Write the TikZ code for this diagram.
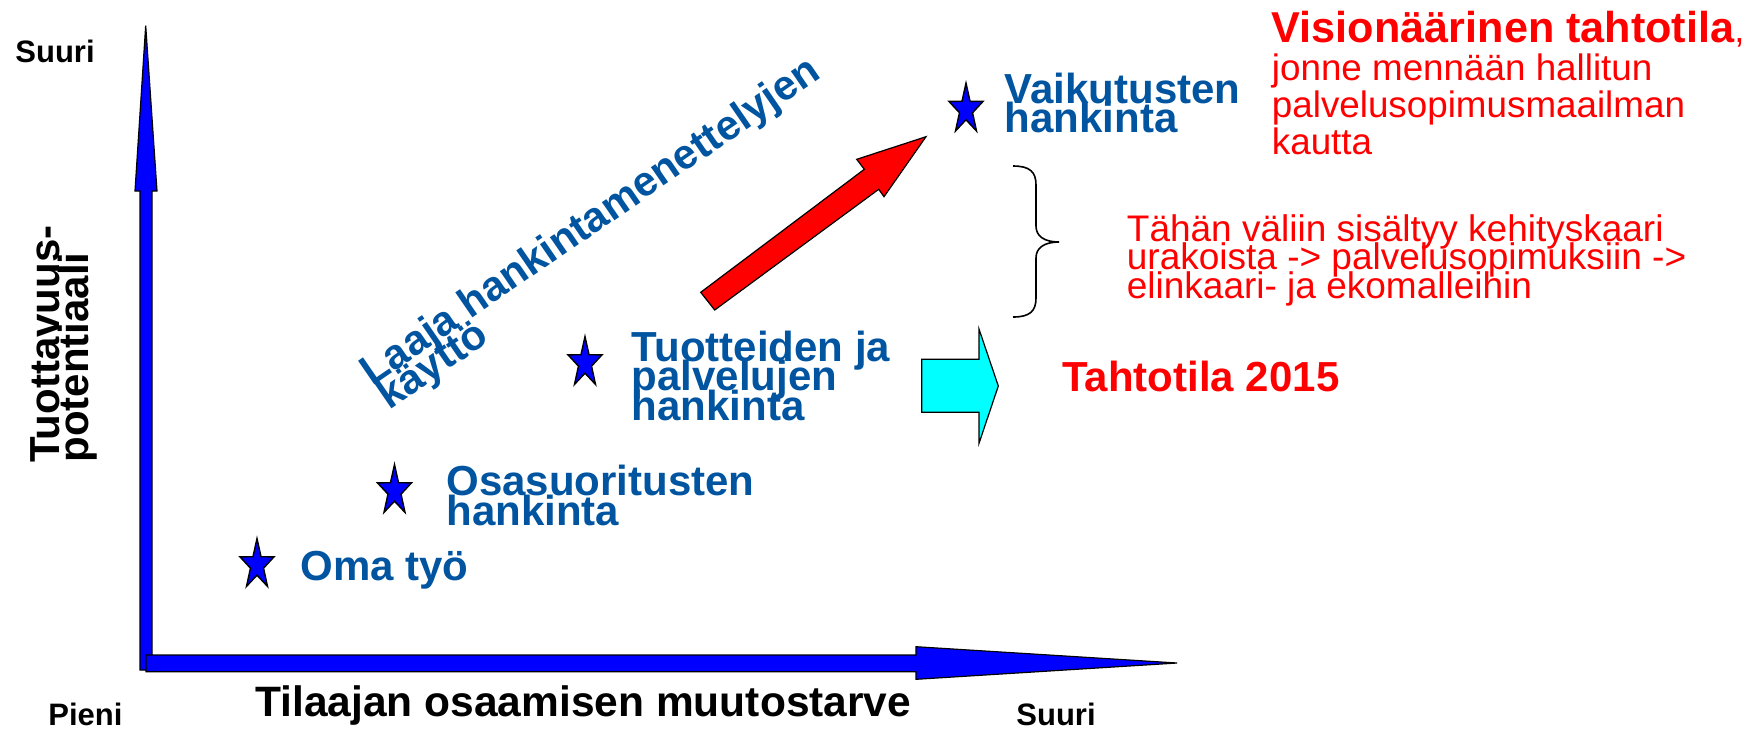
\documentclass[tikz,border=0pt]{standalone}
\usepackage{fontspec}
\setmainfont{Liberation Sans}
\usetikzlibrary{shapes.geometric}
\definecolor{lblue}{RGB}{0,84,160}
\definecolor{axblue}{RGB}{0,0,255}
\definecolor{cyanf}{RGB}{0,255,255}
\definecolor{redf}{RGB}{255,0,0}
\newcommand\stacklines[2]{\vtop{\baselineskip=#1\lineskiplimit=-100pt\lineskip=0pt\relax #2}}
\tikzset{
  lbl/.style={text=lblue, font=\fontsize{21pt}{21pt}\bfseries\selectfont, inner sep=0pt, anchor=base west},
  redbold/.style={text=redf, font=\fontsize{21pt}{21pt}\bfseries\selectfont, inner sep=0pt, anchor=base west},
  redreg/.style={text=redf, font=\fontsize{18.4pt}{18.4pt}\selectfont, inner sep=0pt, anchor=base west},
  axlbl/.style={text=black, font=\fontsize{15.5pt}{15.5pt}\bfseries\selectfont, inner sep=0pt, anchor=base west},
  starsty/.style={star, star points=5, star point ratio=2.6, draw=black, fill=axblue, line width=0.7pt, inner sep=0pt, minimum size=17.9pt},
  blockarrow/.style={draw=black, line width=0.6pt, line join=miter}
}
\begin{document}
\begin{tikzpicture}[x=0.5pt, y=-0.5pt]
\useasboundingbox (0,0) rectangle (1751,730);

% axes
\draw[blockarrow, fill=axblue] (140,670) -- (140,191) -- (135,191) -- (145.7,25.6) -- (157,191) -- (152,191) -- (152,670) -- cycle;
\draw[blockarrow, fill=axblue] (146,655) -- (916,655) -- (916,646.7) -- (1177,663) -- (916,679.3) -- (916,671.7) -- (146,671.7) -- cycle;

% axis labels
\node[axlbl] (suuriy) at (15,62.8) {Suuri};
\node[axlbl] (pieni) at (48,725) {Pieni};
\node[axlbl] (suurix) at (1016,725) {Suuri};
\node[axlbl, font=\fontsize{21.25pt}{21.25pt}\bfseries\selectfont] (xlab) at (255,716.7) {Tilaajan osaamisen muutostarve};
\node[axlbl, font=\fontsize{21pt}{21pt}\bfseries\selectfont, rotate=90] (ylab) at (59.3,463)
  {\stacklines{14.5pt}{\hbox{Tuottavuus-}\hbox{potentiaali}}};

% stars
\begin{scope}[shift={(257,565)}, yscale=1.48]
  \node[starsty, transform shape] (s1) at (0,0) {};
\end{scope}
\begin{scope}[shift={(394.5,491)}, yscale=1.48]
  \node[starsty, transform shape] (s2) at (0,0) {};
\end{scope}
\begin{scope}[shift={(585,363)}, yscale=1.48]
  \node[starsty, transform shape] (s3) at (0,0) {};
\end{scope}
\begin{scope}[shift={(966,109.6)}, yscale=1.48]
  \node[starsty, transform shape] (s4) at (0,0) {};
\end{scope}

% star labels
\node[lbl] (oma) at (300,580.7) {Oma työ};
\node[lbl] (osa) at (446,495.7) {\stacklines{15pt}{\hbox{Osasuoritusten}\hbox{hankinta}}};
\node[lbl] (tuo) at (631.5,361.7) {\stacklines{14.6pt}{\hbox{Tuotteiden ja}\hbox{palvelujen}\hbox{hankinta}}};
\node[lbl] (vai) at (1004.5,103.3) {\stacklines{14.5pt}{\hbox{Vaikutusten}\hbox{hankinta}}};
\node[lbl, rotate=34.5, font=\fontsize{20.9pt}{20.9pt}\bfseries\selectfont] (laaja) at (372.5,386.7)
  {\stacklines{14.5pt}{\hbox{Laaja hankintamenettelyjen}\hbox{käyttö}}};

% red arrow
\draw[blockarrow, fill=redf] (700.7,292.3) -- (864.3,169.3) -- (856.7,159.3) -- (926,136.7) -- (884,196.7) -- (878.7,189.3) -- (714.7,310) -- cycle;

% cyan arrow
\draw[blockarrow, fill=cyanf] (921.7,359.3) -- (979,359.3) -- (979,329) -- (998.3,386) -- (979,443.3) -- (979,412.3) -- (921.7,412.3) -- cycle;

% brace
\draw[line width=0.8pt] (1013,166) .. controls (1030,166) and (1036,172) .. (1036,185) -- (1036,226)
  .. controls (1036,236) and (1044,242) .. (1059,242)
  .. controls (1044,242) and (1036,248) .. (1036,258) -- (1036,298)
  .. controls (1036,311) and (1030,317) .. (1013,317);

% red texts
\node[redbold] (taht) at (1062,391.7) {Tahtotila 2015};
\node[redreg] (vis) at (1271.5,42.7) {\stacklines{18.7pt}{\hbox{{\fontsize{21.6pt}{21.6pt}\bfseries\selectfont Visionäärinen tahtotila},}\hbox{jonne mennään hallitun}\hbox{palvelusopimusmaailman}\hbox{kautta}}};
\node[redreg, font=\fontsize{18.5pt}{18.5pt}\selectfont] (tahan) at (1126.5,241)
  {\stacklines{14.35pt}{\hbox{Tähän väliin sisältyy kehityskaari}\hbox{urakoista -> palvelusopimuksiin ->}\hbox{elinkaari- ja ekomalleihin}}};
\end{tikzpicture}
\end{document}
